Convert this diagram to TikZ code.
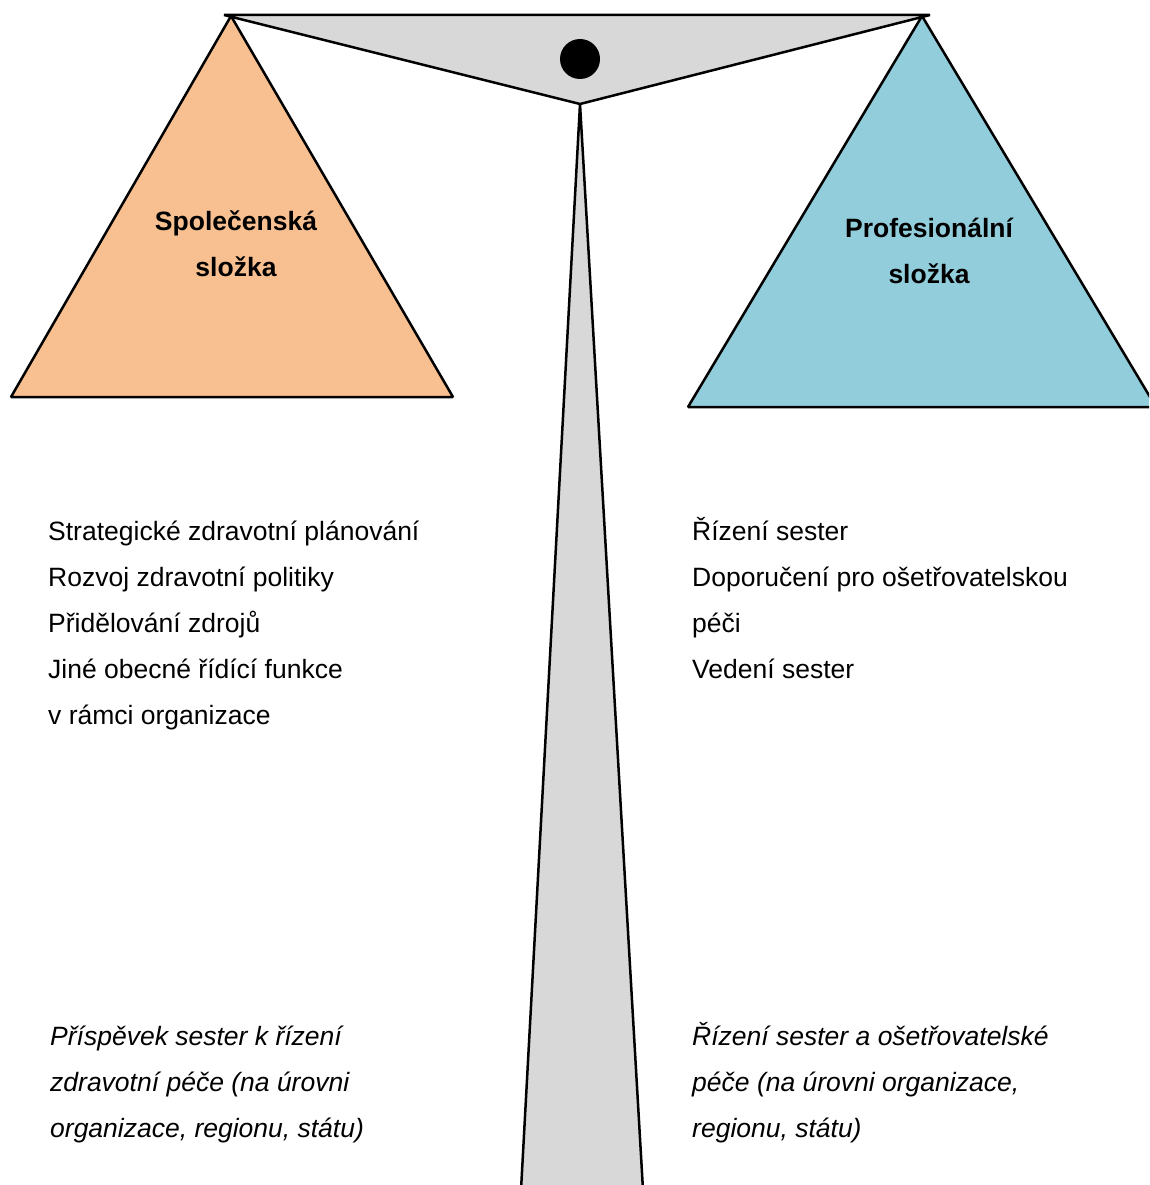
\documentclass[tikz,border=0pt]{standalone}
\usepackage{fontspec}
\setmainfont{Liberation Sans}
\usepackage{xcolor}
\definecolor{beamgray}{RGB}{216,216,216}
\definecolor{panorange}{RGB}{248,192,144}
\definecolor{panblue}{RGB}{146,205,220}

\begin{document}
\begin{tikzpicture}[x=1pt,y=-1pt,
    pan/.style={draw=black,line width=2.5pt,line join=bevel},
    listtext/.style={inner sep=0pt,anchor=base west,align=left,
      font=\fontsize{26.5}{46}\selectfont},
    label/.style={inner sep=0pt,anchor=base,align=center,
      font=\fontsize{26.5}{46}\selectfont\bfseries}]
    % Fix the page size
    \clip (0,0) rectangle (1149,1185);
    \fill[white] (0,0) rectangle (1149,1185);
    % Draw the stem of the scales
    \draw[pan,fill=beamgray] (580,104) -- (521,1190) -- (643,1190) -- cycle;
    % Draw the beam and the pivot
    \draw[pan,fill=beamgray] (224,15) -- (930,15) -- (580,104) -- cycle;
    \fill[black] (580,59) circle (20);
    % Draw the left and right pans
    \draw[pan,fill=panorange] (231,16) -- (453,397) -- (11,397) -- cycle;
    \draw[pan,fill=panblue] (922,16) -- (1156,407) -- (688,407) -- cycle;
    % Labels in the pans (base is the last line)
    \node[label] (social) at (236,276) {Společenská\\složka};
    \node[label] (prof) at (929,283) {Profesionální\\složka};
    % Lists below the pans
    \node[listtext] (sociallist) at (48,724) {Strategické zdravotní plánování\\
      Rozvoj zdravotní politiky\\Přidělování zdrojů\\
      Jiné obecné řídící funkce\\v rámci organizace};
    \node[listtext] (proflist) at (692,678) {Řízení sester\\
      Doporučení pro ošetřovatelskou\\péči\\Vedení sester};
    % Notes at the bottom
    \node[listtext,font=\fontsize{26.5}{46}\selectfont\itshape] (socialnote)
      at (50,1137) {Příspěvek sester k řízení\\zdravotní péče (na úrovni\\
      organizace, regionu, státu)};
    \node[listtext,font=\fontsize{26.5}{46}\selectfont\itshape] (profnote)
      at (692,1137) {Řízení sester a ošetřovatelské\\
      péče (na úrovni organizace,\\regionu, státu)};
\end{tikzpicture}
\end{document}
